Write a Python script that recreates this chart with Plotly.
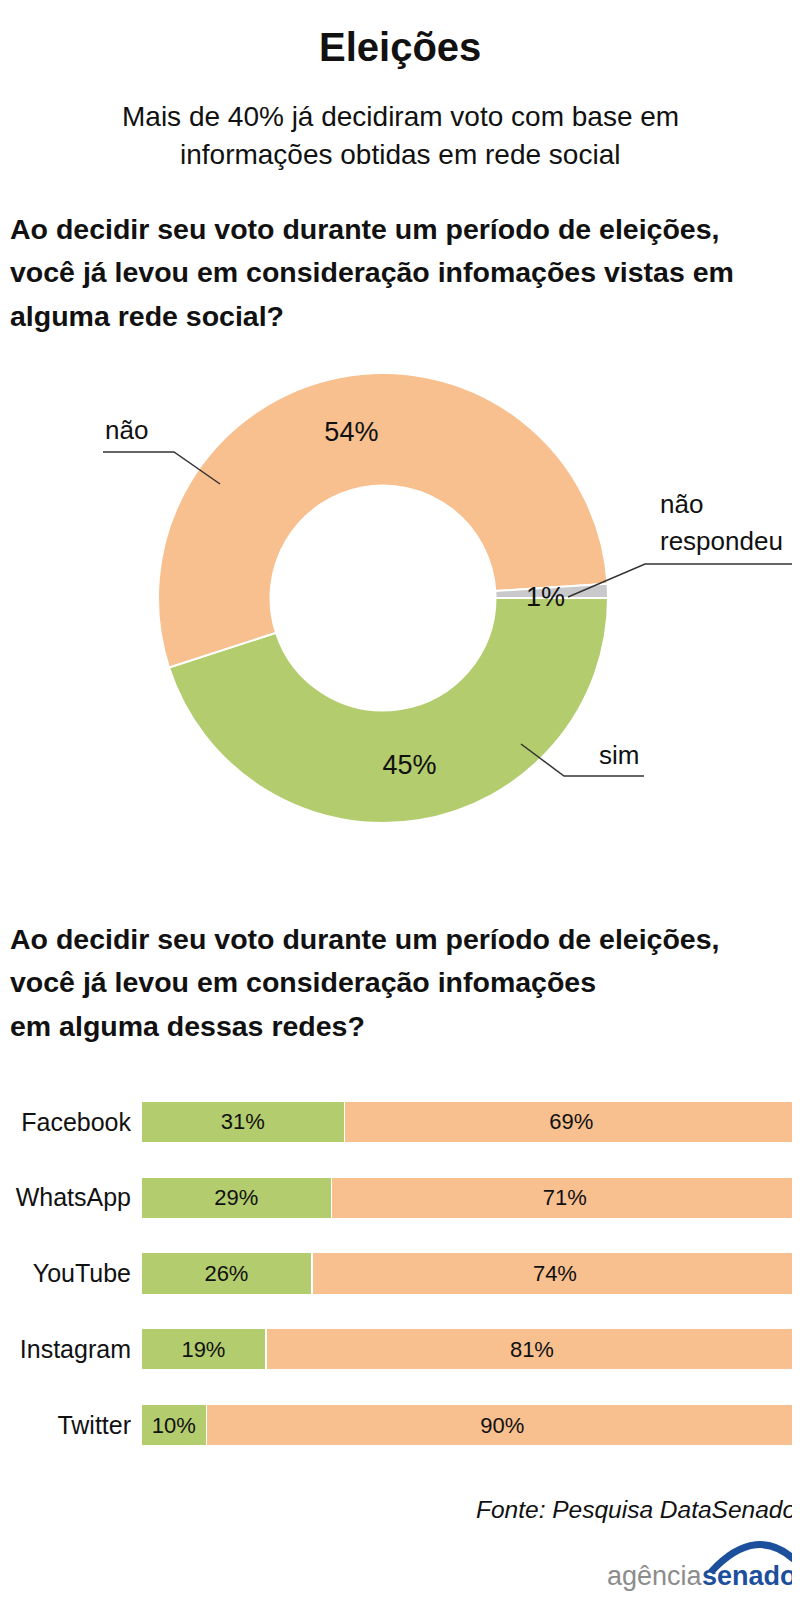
import plotly.graph_objects as go

# dados da pesquisa DataSenado
answer_labels = ["sim", "não", "não respondeu"]
answer_vals = [45, 54, 1]

networks = ["Facebook", "WhatsApp", "YouTube", "Instagram", "Twitter"]
yes_vals = [31, 29, 26, 19, 10]
no_vals = [69, 71, 74, 81, 90]

title = "Eleições"
subtitle = ["Mais de 40% já decidiram voto com base em",
            "informações obtidas em rede social"]
question1 = ["Ao decidir seu voto durante um período de eleições,",
             "você já levou em consideração infomações vistas em",
             "alguma rede social?"]
question2 = ["Ao decidir seu voto durante um período de eleições,",
             "você já levou em consideração infomações",
             "em alguma dessas redes?"]
source = "Fonte: Pesquisa DataSenado"

# o body da página tem 8px de margem: a figura começa em (8, 8)
OFF = 8
W, H = 800 - OFF, 1616 - 2 * OFF
GREEN = "#b3cc6d"
PEACH = "#f8bf8f"
GRAY = "#c9c9cc"
BLUE = "#1c4f9c"
FONT = "Liberation Sans, Arial, sans-serif"


# pixels da página -> paper
def px(x):
    return (x - OFF) / W


def py(y):
    return 1 - (y - OFF) / H


fig = go.Figure()

fig.add_trace(go.Pie(
    values=answer_vals, labels=answer_labels, hole=0.5, sort=False,
    direction="clockwise", rotation=90,
    marker=dict(colors=[GREEN, PEACH, GRAY], line=dict(color="white", width=2)),
    texttemplate=["%{value}%", "%{value}%", ""], textposition="inside",
    insidetextorientation="horizontal",
    textfont=dict(family=FONT, size=27, color="#111"),
    domain=dict(x=[px(383 - 225), px(383 + 225)], y=[py(598 + 225), py(598 - 225)]),
    showlegend=False, hoverinfo="skip",
))

fig.add_trace(go.Bar(
    y=networks, x=yes_vals, orientation="h", xaxis="x", yaxis="y",
    marker=dict(color=GREEN, line=dict(color="white", width=1.5)),
    text=[f"{v}%" for v in yes_vals], textposition="inside", insidetextanchor="middle",
    textfont=dict(family=FONT, size=22, color="#111"), showlegend=False, hoverinfo="skip",
))
fig.add_trace(go.Bar(
    y=networks, x=no_vals, orientation="h", xaxis="x", yaxis="y",
    marker=dict(color=PEACH, line=dict(color="white", width=1.5)),
    text=[f"{v}%" for v in no_vals], textposition="inside", insidetextanchor="middle",
    textfont=dict(family=FONT, size=22, color="#111"), showlegend=False, hoverinfo="skip",
))

ann = []


def txt(s, x, y, size, xanchor="left", bold=False, italic=False, color="#111"):
    if bold:
        s = f"<b>{s}</b>"
    if italic:
        s = f"<i>{s}</i>"
    ann.append(dict(text=s, x=px(x), y=py(y), xref="paper", yref="paper",
                    xanchor=xanchor, yanchor="middle", showarrow=False,
                    font=dict(family=FONT, size=size, color=color)))


txt(title, 400, 47, 40, "center", bold=True)
for i, line in enumerate(subtitle):
    txt(line, 400, 116 + i * 38, 28, "center")
for i, line in enumerate(question1):
    txt(line, 8, 229 + i * 43.5, 28.5, bold=True)
for i, line in enumerate(question2):
    txt(line, 8, 939 + i * 43.5, 28.5, bold=True)

# rótulos da rosca
txt(answer_labels[1], 103, 430, 26)
txt(answer_labels[0], 597, 755, 26)
txt("não", 658, 504, 26)
txt("respondeu", 658, 541, 26)
txt(f"{answer_vals[2]}%", 545, 597, 27, "center")

txt(source, 798, 1509, 24.5, "right", italic=True)
txt("agência", 705, 1576, 27, "right", color="#8c8c8c")
txt("senado", 799, 1576, 27, "right", bold=True, color=BLUE)

shapes = []


def seg(pts, color="#333", width=1.5):
    path = "M " + " L ".join(f"{px(a):.4f},{py(b):.4f}" for a, b in pts)
    shapes.append(dict(type="path", path=path, xref="paper", yref="paper",
                       line=dict(color=color, width=width)))


seg([(103, 452), (174, 452), (220, 484)])
seg([(521, 744), (564, 776), (644, 776)])
seg([(568, 597), (645, 564), (795, 564)])

# arco do logo
shapes.append(dict(type="path", xref="paper", yref="paper",
                   path=f"M {px(711):.4f},{py(1572):.4f} Q {px(757):.4f},{py(1522):.4f} {px(798):.4f},{py(1563):.4f}",
                   line=dict(color=BLUE, width=7)))

fig.update_layout(
    width=W, height=H, margin=dict(l=0, r=0, t=0, b=0),
    paper_bgcolor="white", plot_bgcolor="white",
    barmode="stack", bargap=0.452,
    xaxis=dict(domain=[px(141), px(798)], range=[0, 100], visible=False, fixedrange=True),
    yaxis=dict(domain=[py(1463), py(1084)], autorange="reversed", showgrid=False,
               ticks="", showline=False, ticklabelstandoff=9,
               tickfont=dict(family=FONT, size=25, color="#111")),
    annotations=ann, shapes=shapes,
)

fig.write_html("out.html")
